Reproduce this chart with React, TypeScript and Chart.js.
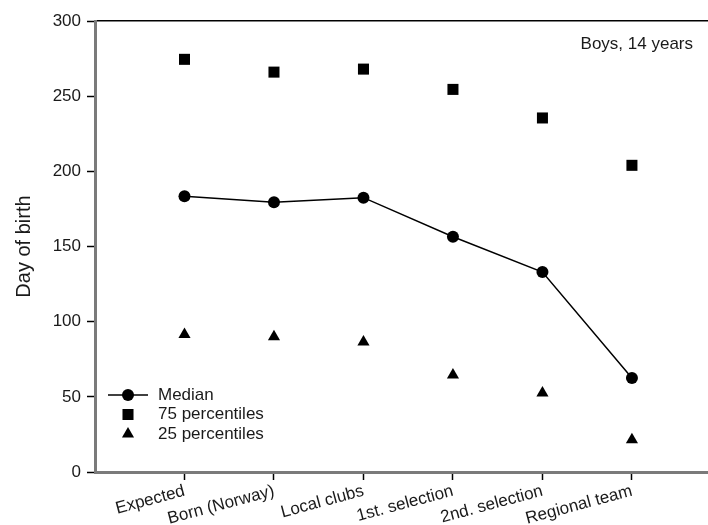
import React, { useEffect, useRef } from "react";
import { Chart, registerables } from "chart.js";

Chart.register(...registerables);

const categories = [
  "Expected",
  "Born (Norway)",
  "Local clubs",
  "1st. selection",
  "2nd. selection",
  "Regional team",
];
const median = [183.5, 179.5, 182.5, 156.5, 133, 62.5];
const p75 = [274.5, 266, 268, 254.5, 235.5, 204];
const p25 = [91.5, 90, 86.5, 64.5, 52.5, 21.5];
const yTicks = [0, 50, 100, 150, 200, 250, 300];
const seriesLabels = ["Median", "75 percentiles", "25 percentiles"];
const annotation = "Boys, 14 years";
const yTitle = "Day of birth";

const FONT = "'Liberation Sans', Arial, sans-serif";
const TEXT = "#1a1a1a";

const toXY = (arr: number[]) => arr.map((v, i) => ({ x: i + 1, y: v }));

function drawMarker(ctx: CanvasRenderingContext2D, style: string, x: number, y: number, r: number) {
  ctx.beginPath();
  if (style === "circle") {
    ctx.arc(x, y, r, 0, Math.PI * 2);
  } else if (style === "rect") {
    const s = Math.SQRT1_2 * r;
    ctx.rect(x - s, y - s, 2 * s, 2 * s);
  } else if (style === "triangle") {
    ctx.moveTo(x, y - r);
    ctx.lineTo(x + Math.sin(Math.PI * 2 / 3) * r, y + r / 2);
    ctx.lineTo(x - Math.sin(Math.PI * 2 / 3) * r, y + r / 2);
    ctx.closePath();
  }
  ctx.fill();
}

const overlayPlugin = {
  id: "overlay",
  afterDraw(chart: any) {
    const ctx = chart.ctx;
    const area = chart.chartArea;
    ctx.save();
    ctx.fillStyle = TEXT;
    ctx.font = `17px ${FONT}`;
    ctx.textAlign = "right";
    ctx.textBaseline = "middle";
    ctx.fillText(annotation, area.right - 15, area.top + 23);

    const lx = area.left + 33;
    const rows = [area.bottom - 77, area.bottom - 57.5, area.bottom - 38];
    chart.data.datasets.forEach((ds: any, i: number) => {
      const y = rows[i];
      if (ds.showLine) {
        ctx.strokeStyle = ds.borderColor;
        ctx.lineWidth = ds.borderWidth;
        ctx.beginPath();
        ctx.moveTo(lx - 20, y);
        ctx.lineTo(lx + 20, y);
        ctx.stroke();
      }
      ctx.fillStyle = "#000";
      drawMarker(ctx, ds.pointStyle, lx, y, ds.pointRadius);
      ctx.fillStyle = TEXT;
      ctx.font = `17px ${FONT}`;
      ctx.textAlign = "left";
      ctx.textBaseline = "middle";
      ctx.fillText(ds.label, lx + 30, y);
    });
    ctx.restore();
  },
};

export default function App() {
  const ref = useRef<HTMLCanvasElement>(null);

  useEffect(() => {
    document.body.style.margin = "0";
    if (!ref.current) return;
    const chart = new Chart(ref.current, {
      type: "scatter",
      data: {
        datasets: [
          {
            label: seriesLabels[0],
            data: toXY(median),
            showLine: true,
            borderColor: "#000",
            borderWidth: 1.5,
            backgroundColor: "#000",
            pointStyle: "circle",
            pointRadius: 6,
            pointBorderWidth: 0,
            pointBackgroundColor: "#000",
          },
          {
            label: seriesLabels[1],
            data: toXY(p75),
            showLine: false,
            borderColor: "#000",
            borderWidth: 0,
            backgroundColor: "#000",
            pointStyle: "rect",
            pointRadius: 7.8,
            pointBorderWidth: 0,
            pointBackgroundColor: "#000",
          },
          {
            label: seriesLabels[2],
            data: toXY(p25),
            showLine: false,
            borderColor: "#000",
            borderWidth: 0,
            backgroundColor: "#000",
            pointStyle: "triangle",
            pointRadius: 7,
            pointBorderWidth: 0,
            pointBackgroundColor: "#000",
          },
        ] as any,
      },
      options: {
        animation: false,
        responsive: false,
        layout: { autoPadding: false, padding: { top: 21, right: 0, left: 0, bottom: 0 } },
        plugins: {
          legend: { display: false },
          tooltip: { enabled: false },
        },
        scales: {
          x: {
            type: "linear",
            position: "bottom",
            min: 0,
            max: 6.85,
            afterBuildTicks: (scale: any) => {
              scale.ticks = categories.map((_, i) => ({ value: i + 1 }));
            },
            afterFit: (scale: any) => {
              scale.height = 53;
              scale.paddingRight = 0;
              scale.paddingLeft = 0;
            },
            grid: {
              drawOnChartArea: false,
              drawTicks: true,
              tickLength: 8,
              tickColor: "#000",
              tickWidth: 1.5,
            },
            border: { display: true, color: "#7a7a7a", width: 3 },
            ticks: {
              autoSkip: false,
              minRotation: 15,
              maxRotation: 15,
              padding: 1,
              color: TEXT,
              font: { family: FONT, size: 17 },
              callback: (v: any) => categories[Number(v) - 1] ?? "",
            },
          },
          xTop: {
            type: "linear",
            position: "top",
            min: 0,
            max: 6.85,
            afterFit: (scale: any) => {
              scale.height = 0;
              scale.paddingRight = 0;
              scale.paddingLeft = 0;
            },
            grid: { display: false, drawTicks: false },
            border: { display: true, color: "#000", width: 1.5 },
            ticks: { display: false },
          },
          y: {
            type: "linear",
            min: 0,
            max: 300,
            afterBuildTicks: (scale: any) => {
              scale.ticks = yTicks.map((v) => ({ value: v }));
            },
            afterFit: (scale: any) => {
              scale.width = 95;
              scale.paddingTop = 0;
              scale.paddingBottom = 0;
            },
            grid: {
              drawOnChartArea: false,
              drawTicks: true,
              tickLength: 8,
              tickColor: "#000",
              tickWidth: 1.5,
            },
            border: { display: true, color: "#7a7a7a", width: 3 },
            ticks: {
              padding: 6,
              color: TEXT,
              font: { family: FONT, size: 17 },
            },
            title: {
              display: true,
              text: yTitle,
              color: TEXT,
              font: { family: FONT, size: 20 },
              padding: { top: 12, bottom: 0 },
            },
          },
        },
      } as any,
      plugins: [overlayPlugin],
    });
    return () => chart.destroy();
  }, []);

  return (
    <div style={{ width: 708, height: 525, position: "relative" }}>
      <canvas ref={ref} width={708} height={525} style={{ display: "block" }} />
    </div>
  );
}
